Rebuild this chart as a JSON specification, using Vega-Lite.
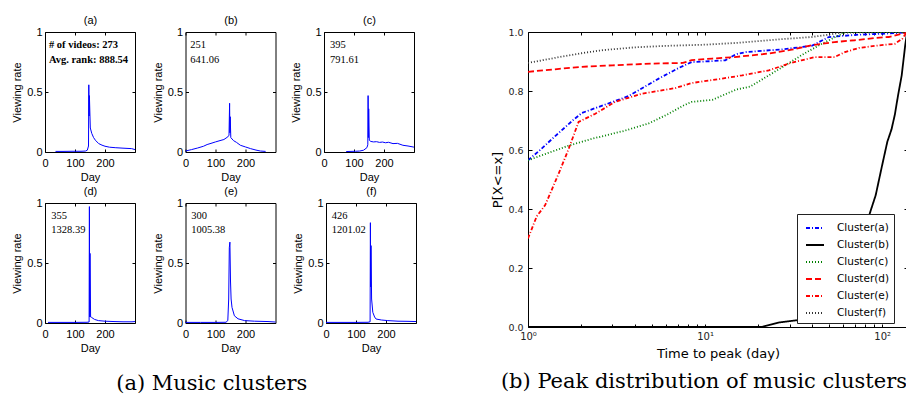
{
  "$schema": "https://vega.github.io/schema/vega-lite/v6.json",
  "padding": {"left": 11, "top": 11, "right": 0, "bottom": 0},
  "config": {
    "view": {"stroke": "black", "strokeWidth": 1},
    "axis": {
      "grid": false, "domain": false, "tickColor": "black", "tickSize": -3,
      "labelColor": "black", "titleColor": "black", "titleFontWeight": "normal",
      "labelFont": "Liberation Sans", "titleFont": "Liberation Sans",
      "labelFontSize": 11, "titleFontSize": 11, "labelFlush": false, "labelOverlap": false, "labelBound": false
    },
    "axisX": {"labelPadding": 8, "titlePadding": 3},
    "axisY": {"labelPadding": 6, "titlePadding": 4},
    "axisTop": {"titlePadding": 6}
  },
  "datasets": {
    "viewing": [
      {"panel": "a", "day": 35, "rate": 0.005}, {"panel": "a", "day": 60, "rate": 0.005}, {"panel": "a", "day": 90, "rate": 0.006},
      {"panel": "a", "day": 120, "rate": 0.006}, {"panel": "a", "day": 135, "rate": 0.008}, {"panel": "a", "day": 141, "rate": 0.015},
      {"panel": "a", "day": 145, "rate": 0.05}, {"panel": "a", "day": 146, "rate": 0.56}, {"panel": "a", "day": 147, "rate": 0.3},
      {"panel": "a", "day": 148, "rate": 0.47}, {"panel": "a", "day": 151, "rate": 0.2}, {"panel": "a", "day": 156, "rate": 0.154},
      {"panel": "a", "day": 162, "rate": 0.12}, {"panel": "a", "day": 168, "rate": 0.098}, {"panel": "a", "day": 179, "rate": 0.07},
      {"panel": "a", "day": 190, "rate": 0.057}, {"panel": "a", "day": 200, "rate": 0.048}, {"panel": "a", "day": 215, "rate": 0.04},
      {"panel": "a", "day": 234, "rate": 0.036}, {"panel": "a", "day": 260, "rate": 0.032}, {"panel": "a", "day": 289, "rate": 0.028},
      {"panel": "a", "day": 300, "rate": 0.02},

      {"panel": "b", "day": 0, "rate": 0.008}, {"panel": "b", "day": 20, "rate": 0.02}, {"panel": "b", "day": 40, "rate": 0.033},
      {"panel": "b", "day": 60, "rate": 0.048}, {"panel": "b", "day": 72, "rate": 0.062}, {"panel": "b", "day": 85, "rate": 0.072},
      {"panel": "b", "day": 100, "rate": 0.084}, {"panel": "b", "day": 115, "rate": 0.095}, {"panel": "b", "day": 128, "rate": 0.104},
      {"panel": "b", "day": 141, "rate": 0.126}, {"panel": "b", "day": 145, "rate": 0.14}, {"panel": "b", "day": 147, "rate": 0.406},
      {"panel": "b", "day": 148, "rate": 0.16}, {"panel": "b", "day": 149, "rate": 0.294}, {"panel": "b", "day": 151, "rate": 0.12},
      {"panel": "b", "day": 160, "rate": 0.095}, {"panel": "b", "day": 170, "rate": 0.08}, {"panel": "b", "day": 183, "rate": 0.056},
      {"panel": "b", "day": 200, "rate": 0.042}, {"panel": "b", "day": 217, "rate": 0.028}, {"panel": "b", "day": 235, "rate": 0.016},
      {"panel": "b", "day": 250, "rate": 0.008}, {"panel": "b", "day": 267, "rate": 0.005},

      {"panel": "c", "day": 74, "rate": 0.004}, {"panel": "c", "day": 90, "rate": 0.005}, {"panel": "c", "day": 105, "rate": 0.006},
      {"panel": "c", "day": 119, "rate": 0.008}, {"panel": "c", "day": 132, "rate": 0.015}, {"panel": "c", "day": 143, "rate": 0.036},
      {"panel": "c", "day": 146, "rate": 0.06}, {"panel": "c", "day": 147, "rate": 0.47}, {"panel": "c", "day": 148, "rate": 0.12},
      {"panel": "c", "day": 149, "rate": 0.36}, {"panel": "c", "day": 151, "rate": 0.098}, {"panel": "c", "day": 156, "rate": 0.088},
      {"panel": "c", "day": 165, "rate": 0.084}, {"panel": "c", "day": 175, "rate": 0.086}, {"panel": "c", "day": 185, "rate": 0.08},
      {"panel": "c", "day": 195, "rate": 0.083}, {"panel": "c", "day": 205, "rate": 0.077}, {"panel": "c", "day": 215, "rate": 0.081},
      {"panel": "c", "day": 230, "rate": 0.07}, {"panel": "c", "day": 245, "rate": 0.072}, {"panel": "c", "day": 263, "rate": 0.056},
      {"panel": "c", "day": 280, "rate": 0.05}, {"panel": "c", "day": 297, "rate": 0.042}, {"panel": "c", "day": 300, "rate": 0.04},

      {"panel": "d", "day": 10, "rate": 0.005}, {"panel": "d", "day": 50, "rate": 0.005}, {"panel": "d", "day": 100, "rate": 0.005},
      {"panel": "d", "day": 140, "rate": 0.006}, {"panel": "d", "day": 147, "rate": 0.008}, {"panel": "d", "day": 148, "rate": 0.97},
      {"panel": "d", "day": 149, "rate": 0.05}, {"panel": "d", "day": 150, "rate": 0.58}, {"panel": "d", "day": 152, "rate": 0.05},
      {"panel": "d", "day": 155, "rate": 0.047}, {"panel": "d", "day": 165, "rate": 0.03}, {"panel": "d", "day": 178, "rate": 0.02},
      {"panel": "d", "day": 200, "rate": 0.015}, {"panel": "d", "day": 230, "rate": 0.012}, {"panel": "d", "day": 260, "rate": 0.01},
      {"panel": "d", "day": 290, "rate": 0.01}, {"panel": "d", "day": 300, "rate": 0.012},

      {"panel": "e", "day": 0, "rate": 0.005}, {"panel": "e", "day": 50, "rate": 0.005}, {"panel": "e", "day": 100, "rate": 0.005},
      {"panel": "e", "day": 135, "rate": 0.006}, {"panel": "e", "day": 141, "rate": 0.02}, {"panel": "e", "day": 144, "rate": 0.2},
      {"panel": "e", "day": 146, "rate": 0.627}, {"panel": "e", "day": 148, "rate": 0.674}, {"panel": "e", "day": 150, "rate": 0.35},
      {"panel": "e", "day": 152, "rate": 0.2}, {"panel": "e", "day": 155, "rate": 0.13}, {"panel": "e", "day": 163, "rate": 0.06},
      {"panel": "e", "day": 175, "rate": 0.035}, {"panel": "e", "day": 197, "rate": 0.02}, {"panel": "e", "day": 230, "rate": 0.015},
      {"panel": "e", "day": 275, "rate": 0.012}, {"panel": "e", "day": 300, "rate": 0.008},

      {"panel": "f", "day": 0, "rate": 0.005}, {"panel": "f", "day": 50, "rate": 0.005}, {"panel": "f", "day": 100, "rate": 0.005},
      {"panel": "f", "day": 140, "rate": 0.006}, {"panel": "f", "day": 147, "rate": 0.01}, {"panel": "f", "day": 148, "rate": 0.836},
      {"panel": "f", "day": 149, "rate": 0.3}, {"panel": "f", "day": 150, "rate": 0.645}, {"panel": "f", "day": 152, "rate": 0.2},
      {"panel": "f", "day": 156, "rate": 0.089}, {"panel": "f", "day": 162, "rate": 0.05}, {"panel": "f", "day": 167, "rate": 0.033},
      {"panel": "f", "day": 185, "rate": 0.025}, {"panel": "f", "day": 206, "rate": 0.02}, {"panel": "f", "day": 240, "rate": 0.015},
      {"panel": "f", "day": 270, "rate": 0.014}, {"panel": "f", "day": 300, "rate": 0.012}
    ],
    "notes": [
      {"panel": "a", "day": 13, "rate": 0.87, "label": "# of videos: 273"},
      {"panel": "a", "day": 13, "rate": 0.745, "label": "Avg. rank: 888.54"},
      {"panel": "b", "day": 16, "rate": 0.87, "label": "251"},
      {"panel": "b", "day": 16, "rate": 0.745, "label": "641.06"},
      {"panel": "c", "day": 20, "rate": 0.87, "label": "395"},
      {"panel": "c", "day": 20, "rate": 0.745, "label": "791.61"},
      {"panel": "d", "day": 21, "rate": 0.87, "label": "355"},
      {"panel": "d", "day": 21, "rate": 0.75, "label": "1328.39"},
      {"panel": "e", "day": 19, "rate": 0.87, "label": "300"},
      {"panel": "e", "day": 19, "rate": 0.75, "label": "1005.38"},
      {"panel": "f", "day": 19, "rate": 0.87, "label": "426"},
      {"panel": "f", "day": 19, "rate": 0.75, "label": "1201.02"}
    ],
    "cdf": [
      {"cluster": "Cluster(a)", "days": 1, "p": 0.565}, {"cluster": "Cluster(a)", "days": 1.15, "p": 0.596},
      {"cluster": "Cluster(a)", "days": 1.43, "p": 0.648}, {"cluster": "Cluster(a)", "days": 1.81, "p": 0.703},
      {"cluster": "Cluster(a)", "days": 2.02, "p": 0.726}, {"cluster": "Cluster(a)", "days": 2.73, "p": 0.754},
      {"cluster": "Cluster(a)", "days": 3.7, "p": 0.783}, {"cluster": "Cluster(a)", "days": 4.2, "p": 0.802},
      {"cluster": "Cluster(a)", "days": 5.47, "p": 0.842}, {"cluster": "Cluster(a)", "days": 7.1, "p": 0.878},
      {"cluster": "Cluster(a)", "days": 8.4, "p": 0.898}, {"cluster": "Cluster(a)", "days": 10, "p": 0.9},
      {"cluster": "Cluster(a)", "days": 13, "p": 0.904}, {"cluster": "Cluster(a)", "days": 15, "p": 0.925},
      {"cluster": "Cluster(a)", "days": 17, "p": 0.932}, {"cluster": "Cluster(a)", "days": 27, "p": 0.941},
      {"cluster": "Cluster(a)", "days": 40, "p": 0.953}, {"cluster": "Cluster(a)", "days": 50, "p": 0.983},
      {"cluster": "Cluster(a)", "days": 74, "p": 0.991}, {"cluster": "Cluster(a)", "days": 100, "p": 0.994},
      {"cluster": "Cluster(a)", "days": 135, "p": 0.998}, {"cluster": "Cluster(a)", "days": 140, "p": 1.0},

      {"cluster": "Cluster(b)", "days": 1, "p": 0}, {"cluster": "Cluster(b)", "days": 21, "p": 0},
      {"cluster": "Cluster(b)", "days": 22, "p": 0.004}, {"cluster": "Cluster(b)", "days": 26, "p": 0.015},
      {"cluster": "Cluster(b)", "days": 34, "p": 0.024}, {"cluster": "Cluster(b)", "days": 36, "p": 0.035},
      {"cluster": "Cluster(b)", "days": 40, "p": 0.05}, {"cluster": "Cluster(b)", "days": 50, "p": 0.1},
      {"cluster": "Cluster(b)", "days": 60, "p": 0.16}, {"cluster": "Cluster(b)", "days": 70, "p": 0.24},
      {"cluster": "Cluster(b)", "days": 80, "p": 0.33}, {"cluster": "Cluster(b)", "days": 86, "p": 0.393},
      {"cluster": "Cluster(b)", "days": 92, "p": 0.447}, {"cluster": "Cluster(b)", "days": 100, "p": 0.548},
      {"cluster": "Cluster(b)", "days": 107, "p": 0.628}, {"cluster": "Cluster(b)", "days": 113, "p": 0.67},
      {"cluster": "Cluster(b)", "days": 118, "p": 0.72}, {"cluster": "Cluster(b)", "days": 123, "p": 0.785},
      {"cluster": "Cluster(b)", "days": 129, "p": 0.853}, {"cluster": "Cluster(b)", "days": 135, "p": 0.955},
      {"cluster": "Cluster(b)", "days": 138, "p": 0.994}, {"cluster": "Cluster(b)", "days": 140, "p": 1.0},

      {"cluster": "Cluster(c)", "days": 1, "p": 0.565}, {"cluster": "Cluster(c)", "days": 1.3, "p": 0.59},
      {"cluster": "Cluster(c)", "days": 1.7, "p": 0.615}, {"cluster": "Cluster(c)", "days": 2.3, "p": 0.638},
      {"cluster": "Cluster(c)", "days": 3.5, "p": 0.665}, {"cluster": "Cluster(c)", "days": 4.8, "p": 0.69},
      {"cluster": "Cluster(c)", "days": 6.2, "p": 0.722}, {"cluster": "Cluster(c)", "days": 7.5, "p": 0.75},
      {"cluster": "Cluster(c)", "days": 8.4, "p": 0.763}, {"cluster": "Cluster(c)", "days": 11, "p": 0.77},
      {"cluster": "Cluster(c)", "days": 15, "p": 0.805}, {"cluster": "Cluster(c)", "days": 18, "p": 0.815},
      {"cluster": "Cluster(c)", "days": 22.9, "p": 0.853}, {"cluster": "Cluster(c)", "days": 28, "p": 0.885},
      {"cluster": "Cluster(c)", "days": 35, "p": 0.921}, {"cluster": "Cluster(c)", "days": 44, "p": 0.955},
      {"cluster": "Cluster(c)", "days": 52, "p": 0.977}, {"cluster": "Cluster(c)", "days": 57, "p": 0.989},
      {"cluster": "Cluster(c)", "days": 62, "p": 1.0}, {"cluster": "Cluster(c)", "days": 140, "p": 1.0},

      {"cluster": "Cluster(d)", "days": 1, "p": 0.865}, {"cluster": "Cluster(d)", "days": 1.5, "p": 0.875},
      {"cluster": "Cluster(d)", "days": 2, "p": 0.882}, {"cluster": "Cluster(d)", "days": 3, "p": 0.887},
      {"cluster": "Cluster(d)", "days": 5, "p": 0.893}, {"cluster": "Cluster(d)", "days": 7.5, "p": 0.895},
      {"cluster": "Cluster(d)", "days": 8.4, "p": 0.905}, {"cluster": "Cluster(d)", "days": 11, "p": 0.91},
      {"cluster": "Cluster(d)", "days": 14.7, "p": 0.915}, {"cluster": "Cluster(d)", "days": 22.9, "p": 0.927},
      {"cluster": "Cluster(d)", "days": 30.9, "p": 0.94}, {"cluster": "Cluster(d)", "days": 40, "p": 0.955},
      {"cluster": "Cluster(d)", "days": 54, "p": 0.966}, {"cluster": "Cluster(d)", "days": 70, "p": 0.972},
      {"cluster": "Cluster(d)", "days": 92, "p": 0.98}, {"cluster": "Cluster(d)", "days": 109, "p": 0.983},
      {"cluster": "Cluster(d)", "days": 130, "p": 0.994}, {"cluster": "Cluster(d)", "days": 140, "p": 1.0},

      {"cluster": "Cluster(e)", "days": 1, "p": 0.3}, {"cluster": "Cluster(e)", "days": 1.12, "p": 0.375},
      {"cluster": "Cluster(e)", "days": 1.25, "p": 0.413}, {"cluster": "Cluster(e)", "days": 1.49, "p": 0.52},
      {"cluster": "Cluster(e)", "days": 1.7, "p": 0.605}, {"cluster": "Cluster(e)", "days": 1.93, "p": 0.695},
      {"cluster": "Cluster(e)", "days": 2.4, "p": 0.723}, {"cluster": "Cluster(e)", "days": 3.1, "p": 0.763},
      {"cluster": "Cluster(e)", "days": 4.4, "p": 0.791}, {"cluster": "Cluster(e)", "days": 6.8, "p": 0.81},
      {"cluster": "Cluster(e)", "days": 8.4, "p": 0.827}, {"cluster": "Cluster(e)", "days": 12.5, "p": 0.842},
      {"cluster": "Cluster(e)", "days": 16.2, "p": 0.853}, {"cluster": "Cluster(e)", "days": 22.9, "p": 0.87},
      {"cluster": "Cluster(e)", "days": 29.8, "p": 0.893}, {"cluster": "Cluster(e)", "days": 35, "p": 0.904},
      {"cluster": "Cluster(e)", "days": 41.8, "p": 0.915}, {"cluster": "Cluster(e)", "days": 54, "p": 0.915},
      {"cluster": "Cluster(e)", "days": 61.7, "p": 0.932}, {"cluster": "Cluster(e)", "days": 74, "p": 0.946},
      {"cluster": "Cluster(e)", "days": 91, "p": 0.953}, {"cluster": "Cluster(e)", "days": 118, "p": 0.96},
      {"cluster": "Cluster(e)", "days": 130, "p": 0.977}, {"cluster": "Cluster(e)", "days": 136, "p": 0.994},
      {"cluster": "Cluster(e)", "days": 140, "p": 1.0},

      {"cluster": "Cluster(f)", "days": 1, "p": 0.895}, {"cluster": "Cluster(f)", "days": 1.5, "p": 0.915},
      {"cluster": "Cluster(f)", "days": 2, "p": 0.928}, {"cluster": "Cluster(f)", "days": 2.6, "p": 0.938},
      {"cluster": "Cluster(f)", "days": 4, "p": 0.948}, {"cluster": "Cluster(f)", "days": 6, "p": 0.953},
      {"cluster": "Cluster(f)", "days": 10, "p": 0.957}, {"cluster": "Cluster(f)", "days": 15, "p": 0.963},
      {"cluster": "Cluster(f)", "days": 26, "p": 0.975}, {"cluster": "Cluster(f)", "days": 40, "p": 0.983},
      {"cluster": "Cluster(f)", "days": 50, "p": 0.991}, {"cluster": "Cluster(f)", "days": 59, "p": 0.998},
      {"cluster": "Cluster(f)", "days": 140, "p": 1.0}
    ]
  },
  "hconcat": [
    {
      "title": {"text": "(a) Music clusters", "orient": "bottom", "anchor": "start", "frame": "bounds", "font": "DejaVu Serif", "fontSize": 21, "fontWeight": "normal", "color": "black", "offset": 19, "dx": 105},
      "spacing": 2,
      "vconcat": [
        {
          "spacing": 13.5,
          "hconcat": [
            {
              "width": 90, "height": 120,
              "resolve": {"axis": {"x": "independent", "y": "independent"}},
              "layer": [
                {"data": {"name": "viewing"}, "transform": [{"filter": "datum.panel === 'a'"}],
                 "mark": {"type": "line", "color": "#0000ff", "strokeWidth": 1},
                 "encoding": {
                   "x": {"field": "day", "type": "quantitative", "scale": {"domain": [0, 300], "nice": false}, "axis": {"values": [0, 100, 200], "title": "Day"}},
                   "y": {"field": "rate", "type": "quantitative", "scale": {"domain": [0, 1], "nice": false}, "axis": {"orient": "left", "tickCount": 2, "labelExpr": "datum.value > 0.9 ? '1' : datum.value > 0 ? '0.5' : '0'", "labelOverlap": false, "labelBound": false, "labelFlush": false, "title": "Viewing rate"}}}},
                {"data": {"name": "notes"}, "transform": [{"filter": "datum.panel === 'a'"}],
                 "mark": {"type": "text", "align": "left", "baseline": "alphabetic", "font": "Liberation Serif", "fontSize": 10.5, "fontWeight": "bold", "color": "black"},
                 "encoding": {
                   "x": {"field": "day", "type": "quantitative", "axis": {"orient": "top", "values": [0, 100, 200], "labels": false, "title": "(a)"}},
                   "y": {"field": "rate", "type": "quantitative", "axis": {"orient": "right", "tickCount": 2, "labels": false, "title": null}},
                   "text": {"field": "label"}}}
              ]
            },
            {
              "width": 90, "height": 120,
              "resolve": {"axis": {"x": "independent", "y": "independent"}},
              "layer": [
                {"data": {"name": "viewing"}, "transform": [{"filter": "datum.panel === 'b'"}],
                 "mark": {"type": "line", "color": "#0000ff", "strokeWidth": 1},
                 "encoding": {
                   "x": {"field": "day", "type": "quantitative", "scale": {"domain": [0, 300], "nice": false}, "axis": {"values": [0, 100, 200], "title": "Day"}},
                   "y": {"field": "rate", "type": "quantitative", "scale": {"domain": [0, 1], "nice": false}, "axis": {"orient": "left", "tickCount": 2, "labelExpr": "datum.value > 0.9 ? '1' : datum.value > 0 ? '0.5' : '0'", "labelOverlap": false, "labelBound": false, "labelFlush": false, "title": "Viewing rate"}}}},
                {"data": {"name": "notes"}, "transform": [{"filter": "datum.panel === 'b'"}],
                 "mark": {"type": "text", "align": "left", "baseline": "alphabetic", "font": "Liberation Serif", "fontSize": 10.5, "color": "black"},
                 "encoding": {
                   "x": {"field": "day", "type": "quantitative", "axis": {"orient": "top", "values": [0, 100, 200], "labels": false, "title": "(b)"}},
                   "y": {"field": "rate", "type": "quantitative", "axis": {"orient": "right", "tickCount": 2, "labels": false, "title": null}},
                   "text": {"field": "label"}}}
              ]
            },
            {
              "width": 90, "height": 120,
              "resolve": {"axis": {"x": "independent", "y": "independent"}},
              "layer": [
                {"data": {"name": "viewing"}, "transform": [{"filter": "datum.panel === 'c'"}],
                 "mark": {"type": "line", "color": "#0000ff", "strokeWidth": 1},
                 "encoding": {
                   "x": {"field": "day", "type": "quantitative", "scale": {"domain": [0, 300], "nice": false}, "axis": {"values": [0, 100, 200], "title": "Day"}},
                   "y": {"field": "rate", "type": "quantitative", "scale": {"domain": [0, 1], "nice": false}, "axis": {"orient": "left", "tickCount": 2, "labelExpr": "datum.value > 0.9 ? '1' : datum.value > 0 ? '0.5' : '0'", "labelOverlap": false, "labelBound": false, "labelFlush": false, "title": "Viewing rate"}}}},
                {"data": {"name": "notes"}, "transform": [{"filter": "datum.panel === 'c'"}],
                 "mark": {"type": "text", "align": "left", "baseline": "alphabetic", "font": "Liberation Serif", "fontSize": 10.5, "color": "black"},
                 "encoding": {
                   "x": {"field": "day", "type": "quantitative", "axis": {"orient": "top", "values": [0, 100, 200], "labels": false, "title": "(c)"}},
                   "y": {"field": "rate", "type": "quantitative", "axis": {"orient": "right", "tickCount": 2, "labels": false, "title": null}},
                   "text": {"field": "label"}}}
              ]
            }
          ]
        },
        {
          "spacing": 13.5,
          "hconcat": [
            {
              "width": 90, "height": 120,
              "resolve": {"axis": {"x": "independent", "y": "independent"}},
              "layer": [
                {"data": {"name": "viewing"}, "transform": [{"filter": "datum.panel === 'd'"}],
                 "mark": {"type": "line", "color": "#0000ff", "strokeWidth": 1},
                 "encoding": {
                   "x": {"field": "day", "type": "quantitative", "scale": {"domain": [0, 300], "nice": false}, "axis": {"values": [0, 100, 200], "title": "Day"}},
                   "y": {"field": "rate", "type": "quantitative", "scale": {"domain": [0, 1], "nice": false}, "axis": {"orient": "left", "tickCount": 2, "labelExpr": "datum.value > 0.9 ? '1' : datum.value > 0 ? '0.5' : '0'", "labelOverlap": false, "labelBound": false, "labelFlush": false, "title": "Viewing rate"}}}},
                {"data": {"name": "notes"}, "transform": [{"filter": "datum.panel === 'd'"}],
                 "mark": {"type": "text", "align": "left", "baseline": "alphabetic", "font": "Liberation Serif", "fontSize": 10.5, "color": "black"},
                 "encoding": {
                   "x": {"field": "day", "type": "quantitative", "axis": {"orient": "top", "values": [0, 100, 200], "labels": false, "title": "(d)"}},
                   "y": {"field": "rate", "type": "quantitative", "axis": {"orient": "right", "tickCount": 2, "labels": false, "title": null}},
                   "text": {"field": "label"}}}
              ]
            },
            {
              "width": 90, "height": 120,
              "resolve": {"axis": {"x": "independent", "y": "independent"}},
              "layer": [
                {"data": {"name": "viewing"}, "transform": [{"filter": "datum.panel === 'e'"}],
                 "mark": {"type": "line", "color": "#0000ff", "strokeWidth": 1},
                 "encoding": {
                   "x": {"field": "day", "type": "quantitative", "scale": {"domain": [0, 300], "nice": false}, "axis": {"values": [0, 100, 200], "title": "Day"}},
                   "y": {"field": "rate", "type": "quantitative", "scale": {"domain": [0, 1], "nice": false}, "axis": {"orient": "left", "tickCount": 2, "labelExpr": "datum.value > 0.9 ? '1' : datum.value > 0 ? '0.5' : '0'", "labelOverlap": false, "labelBound": false, "labelFlush": false, "title": "Viewing rate"}}}},
                {"data": {"name": "notes"}, "transform": [{"filter": "datum.panel === 'e'"}],
                 "mark": {"type": "text", "align": "left", "baseline": "alphabetic", "font": "Liberation Serif", "fontSize": 10.5, "color": "black"},
                 "encoding": {
                   "x": {"field": "day", "type": "quantitative", "axis": {"orient": "top", "values": [0, 100, 200], "labels": false, "title": "(e)"}},
                   "y": {"field": "rate", "type": "quantitative", "axis": {"orient": "right", "tickCount": 2, "labels": false, "title": null}},
                   "text": {"field": "label"}}}
              ]
            },
            {
              "width": 90, "height": 120,
              "resolve": {"axis": {"x": "independent", "y": "independent"}},
              "layer": [
                {"data": {"name": "viewing"}, "transform": [{"filter": "datum.panel === 'f'"}],
                 "mark": {"type": "line", "color": "#0000ff", "strokeWidth": 1},
                 "encoding": {
                   "x": {"field": "day", "type": "quantitative", "scale": {"domain": [0, 300], "nice": false}, "axis": {"values": [0, 100, 200], "title": "Day"}},
                   "y": {"field": "rate", "type": "quantitative", "scale": {"domain": [0, 1], "nice": false}, "axis": {"orient": "left", "tickCount": 2, "labelExpr": "datum.value > 0.9 ? '1' : datum.value > 0 ? '0.5' : '0'", "labelOverlap": false, "labelBound": false, "labelFlush": false, "title": "Viewing rate"}}}},
                {"data": {"name": "notes"}, "transform": [{"filter": "datum.panel === 'f'"}],
                 "mark": {"type": "text", "align": "left", "baseline": "alphabetic", "font": "Liberation Serif", "fontSize": 10.5, "color": "black"},
                 "encoding": {
                   "x": {"field": "day", "type": "quantitative", "axis": {"orient": "top", "values": [0, 100, 200], "labels": false, "title": "(f)"}},
                   "y": {"field": "rate", "type": "quantitative", "axis": {"orient": "right", "tickCount": 2, "labels": false, "title": null}},
                   "text": {"field": "label"}}}
              ]
            }
          ]
        }
      ]
    },
    {
      "width": 380, "height": 295,
      "title": {"text": "(b) Peak distribution of music clusters", "orient": "bottom", "anchor": "start", "frame": "bounds", "font": "DejaVu Serif", "fontSize": 21, "fontWeight": "normal", "color": "black", "offset": 11, "dx": 9},
      "data": {"name": "cdf"},
      "resolve": {"axis": {"x": "independent", "y": "independent"}},
      "layer": [
        {
          "mark": {"type": "line", "strokeWidth": 1.8, "clip": true},
          "encoding": {
            "x": {"field": "days", "type": "quantitative",
                  "scale": {"type": "log", "domain": [1, 140], "nice": false},
                  "axis": {"values": [1, 2, 3, 4, 5, 6, 7, 8, 9, 10, 20, 30, 40, 50, 60, 70, 80, 90, 100],
                           "labelExpr": "datum.value === 1 ? '10⁰' : datum.value === 10 ? '10¹' : datum.value === 100 ? '10²' : ''",
                           "labelFont": "DejaVu Sans", "labelFontSize": 10, "labelColor": "#222",
                           "title": "Time to peak (day)", "titleFont": "DejaVu Sans", "titleFontSize": 13,
                           "tickSize": -3, "labelPadding": 7, "titlePadding": 6}},
            "y": {"field": "p", "type": "quantitative",
                  "scale": {"domain": [0, 1], "nice": false},
                  "axis": {"values": [0, 0.2, 0.4, 0.6, 0.8, 1], "format": ".1f",
                           "labelFont": "DejaVu Sans", "labelFontSize": 9.5, "labelColor": "#222",
                           "title": "P[X<=x]", "titleFont": "DejaVu Sans", "titleFontSize": 13,
                           "tickSize": -4, "labelPadding": 9, "titlePadding": 3}},
            "color": {"field": "cluster", "type": "nominal",
                      "scale": {"domain": ["Cluster(a)", "Cluster(b)", "Cluster(c)", "Cluster(d)", "Cluster(e)", "Cluster(f)"],
                                "range": ["#0000ff", "#000000", "#008000", "#ff0000", "#ff0000", "#333333"]},
                      "legend": {"orient": "none", "legendX": 752, "legendY": 182, "title": null,
                                 "symbolType": "stroke", "symbolSize": 324, "symbolStrokeWidth": 2,
                                 "labelFont": "DejaVu Sans", "labelFontSize": 10.5, "labelColor": "black", "labelOffset": 12,
                                 "fillColor": "white", "strokeColor": "#222", "padding": 4, "rowPadding": 1, "symbolOffset": 4}},
            "strokeDash": {"field": "cluster", "type": "nominal",
                           "scale": {"domain": ["Cluster(a)", "Cluster(b)", "Cluster(c)", "Cluster(d)", "Cluster(e)", "Cluster(f)"],
                                     "range": [[4, 2, 1, 2], [1, 0], [1, 2], [6, 3], [4, 2, 1, 2], [1, 2]]},
                           "legend": {"orient": "none", "legendX": 752, "legendY": 182, "title": null,
                                      "symbolType": "stroke", "symbolSize": 324, "symbolStrokeWidth": 2,
                                      "labelFont": "DejaVu Sans", "labelFontSize": 10.5, "labelColor": "black", "labelOffset": 12,
                                      "fillColor": "white", "strokeColor": "#222", "padding": 4, "rowPadding": 1, "symbolOffset": 4}}
          }
        },
        {
          "mark": {"type": "line", "opacity": 0},
          "encoding": {
            "x": {"field": "days", "type": "quantitative",
                  "axis": {"orient": "top", "values": [1, 2, 3, 4, 5, 6, 7, 8, 9, 10, 20, 30, 40, 50, 60, 70, 80, 90, 100], "labels": false, "title": null, "tickSize": -3, "minExtent": 20}},
            "y": {"field": "p", "type": "quantitative",
                  "axis": {"orient": "right", "values": [0, 0.2, 0.4, 0.6, 0.8, 1], "labels": false, "title": null, "tickSize": -4}},
            "detail": {"field": "cluster"}
          }
        }
      ]
    }
  ],
  "spacing": 72
}
